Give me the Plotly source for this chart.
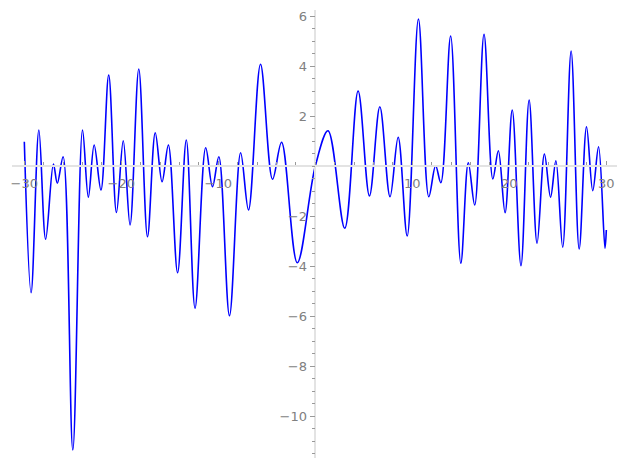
import plotly.graph_objects as go
import numpy as np

# Points (x, y): endpoints and local extrema
x_vals = [-30.0, -29.3, -28.5, -27.8, -27.0, -26.6, -26.0, -25.0, -24.0, -23.4,
          -22.8, -22.1, -21.3, -20.5, -19.8, -19.1, -18.2, -17.3, -16.5, -15.8,
          -15.15, -14.2, -13.3, -12.4, -11.3, -10.6, -9.95, -8.85, -7.7, -6.89,
          -5.65, -4.41, -3.48, -1.86, 0.0, 1.31, 3.03, 4.41, 5.58, 6.65,
          7.7, 8.54, 9.47, 10.63, 11.7, 12.4, 12.94, 13.95, 15.0, 15.77,
          16.43, 17.39, 18.3, 18.87, 19.56, 20.3, 21.2, 22.04, 22.86, 23.62,
          24.25, 24.8, 25.5, 26.37, 27.2, 27.96, 28.6, 29.2, 29.86, 30.0]
y_vals = [0.97, -5.07, 1.44, -2.93, 0.08, -0.69, 0.37, -11.36, 1.44, -1.25,
          0.84, -0.96, 3.64, -1.86, 1.01, -2.36, 3.88, -2.83, 1.33, -0.63,
          0.84, -4.27, 1.04, -5.69, 0.73, -0.83, 0.37, -5.99, 0.53, -1.76,
          4.07, -0.53, 0.95, -3.87, 0.0, 1.41, -2.49, 3.0, -1.2, 2.37,
          -1.23, 1.15, -2.8, 5.88, -1.23, 0.01, -0.67, 5.2, -3.89, 0.13,
          -1.56, 5.27, -0.52, 0.61, -1.87, 2.24, -3.99, 2.64, -3.09, 0.48,
          -1.25, 0.21, -3.25, 4.6, -3.32, 1.57, -0.99, 0.77, -3.29, -2.56]

x_major = [-30, -20, -10, 10, 20, 30]
y_major = [-10, -8, -6, -4, -2, 2, 4, 6]

x_range = [-31.27, 31.1]
y_range = [-11.68, 6.24]

fig = go.Figure()
fig.add_trace(go.Scatter(x=x_vals, y=y_vals, mode="lines",
                         line=dict(color="#0000ff", width=1.6, shape="spline", smoothing=1.0),
                         hoverinfo="skip", showlegend=False))

tick_font = dict(family="DejaVu Sans", size=13, color="#808080")

xpos = (0 - y_range[0]) / (y_range[1] - y_range[0])
ypos = (0 - x_range[0]) / (x_range[1] - x_range[0])

fig.update_layout(
    width=627, height=469,
    margin=dict(l=12, r=10, t=10, b=11, autoexpand=False),
    paper_bgcolor="white", plot_bgcolor="white",
    xaxis=dict(range=x_range, anchor="free", position=xpos, automargin=False,
               showgrid=False, zeroline=False,
               showline=True, linecolor="#e3e3e3", linewidth=1.5,
               tickmode="array", tickvals=x_major,
               ticks="inside", ticklen=4, tickcolor="#999999", tickwidth=1,
               tickfont=tick_font, ticklabelstandoff=6,
               minor=dict(tickmode="linear", tick0=0, dtick=2, ticks="inside",
                          ticklen=3, tickcolor="#999999", showgrid=False)),
    yaxis=dict(range=y_range, anchor="free", position=ypos, automargin=False,
               showgrid=False, zeroline=False,
               showline=True, linecolor="#e3e3e3", linewidth=1.5,
               tickmode="array", tickvals=y_major,
               ticks="outside", ticklen=5, tickcolor="#999999", tickwidth=1,
               tickfont=tick_font,
               minor=dict(tickmode="linear", tick0=0, dtick=0.5, ticks="outside",
                          ticklen=3, tickcolor="#999999", showgrid=False)),
)

fig.write_html("out.html", config={"displayModeBar": False},
               post_script="document.body.style.margin='0';document.body.style.overflow='hidden';")
